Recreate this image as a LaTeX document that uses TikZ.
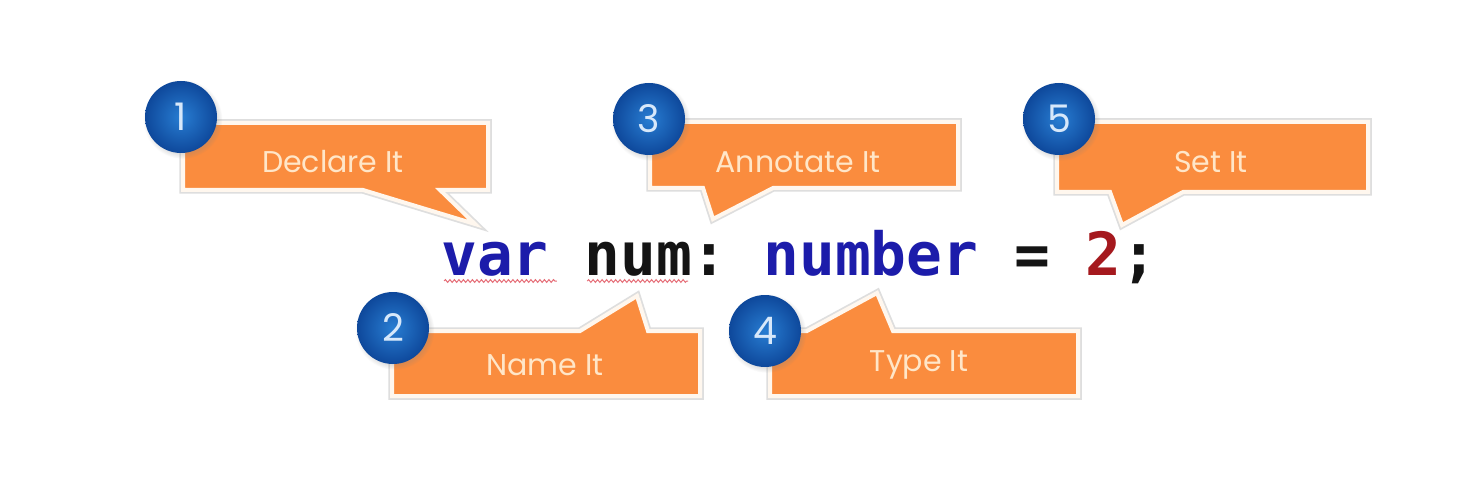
\documentclass[tikz,border=0pt]{standalone}
\usepackage{fontspec}
\newfontfamily\codefont{DejaVu Sans Mono}
\newfontfamily\callfont{Poppins}
\usetikzlibrary{decorations.pathmorphing,shadows}
\definecolor{corange}{RGB}{250,140,62}
\definecolor{cedge}{RGB}{255,247,238}
\definecolor{ctext}{RGB}{255,230,200}
\definecolor{kwblue}{RGB}{28,28,170}
\definecolor{numred}{RGB}{165,25,30}
\definecolor{codeblack}{RGB}{20,20,20}
\definecolor{bluein}{RGB}{40,125,210}
\definecolor{blueout}{RGB}{14,72,155}
\definecolor{digit}{RGB}{215,232,250}
\definecolor{wavered}{RGB}{230,110,120}
\begin{document}
\begin{tikzpicture}[x=1pt,y=-1pt,
 callout/.style={fill=corange, draw=cedge, line width=4pt, line join=miter, preaction={draw=black!13, line width=7.5pt}},
 calltext/.style={font=\callfont\fontsize{30}{32}\selectfont, text=ctext, inner sep=0},
 badge/.style={circle, minimum size=72pt, inner sep=0, inner color=bluein, outer color=blueout, text=digit, font=\callfont\fontsize{38}{40}\selectfont, circular drop shadow={shadow xshift=1.5pt, shadow yshift=-2pt, opacity=0.25}},
 code/.style={anchor=base west, inner sep=0, font=\codefont\bfseries\fontsize{59.5}{60}\selectfont},
 wavy/.style={draw=wavered, line width=1pt, decorate, decoration={snake, amplitude=1.4pt, segment length=4.5pt}}]
\useasboundingbox (0,0) rectangle (1471,494);
\fill[white] (0,0) rectangle (1471,494);

% callouts
\draw[callout] (183,123) -- (488,123) -- (488,190) -- (440,190) -- (475,224) -- (363,190) -- (183,190) -- cycle;
\draw[callout] (650,122) -- (958,122) -- (958,188) -- (773,188) -- (713,219) -- (703,188) -- (650,188) -- cycle;
\draw[callout] (1057,122) -- (1368,122) -- (1368,192) -- (1183,192) -- (1122,225) -- (1110,192) -- (1057,192) -- cycle;
\draw[callout] (392,331) -- (580,331) -- (637,296) -- (648,331) -- (700,331) -- (700,396) -- (392,396) -- cycle;
\draw[callout] (770,331) -- (807,331) -- (877,293) -- (893,331) -- (1078,331) -- (1078,396) -- (770,396) -- cycle;

% callout texts
\node[calltext] (t1) at (333,162) {Declare It};
\node[calltext] (t3) at (798,162) {Annotate It};
\node[calltext] (t5) at (1211,162) {Set It};
\node[calltext] (t2) at (545,365) {Name It};
\node[calltext] (t4) at (919,365) {Type It};

% badges
\node[badge] (b1) at (181,117) {1};
\node[badge] (b3) at (649,119) {3};
\node[badge] (b5) at (1059,119) {5};
\node[badge] (b2) at (393,328) {2};
\node[badge] (b4) at (765,331) {4};

% code line
\node[code, text=kwblue] (var) at (441,275) {var};
\node[code, text=codeblack] (num) at (584.2,275) {num};
\node[code, text=codeblack] (colon) at (691.6,275) {:};
\node[code, text=kwblue] (number) at (763.2,275) {number};
\node[code, text=codeblack] (eq) at (1013.8,275) {=};
\node[code, text=numred] (two) at (1085.4,275) {2};
\node[code, text=codeblack] (semi) at (1121.2,275) {;};

\draw[wavy] ([xshift=3pt,yshift=-6pt]var.base west) -- ([xshift=8pt,yshift=-6pt]var.base east);
\draw[wavy] ([xshift=3pt,yshift=-6pt]num.base west) -- ([xshift=-4pt,yshift=-6pt]num.base east);
\end{tikzpicture}
\end{document}
